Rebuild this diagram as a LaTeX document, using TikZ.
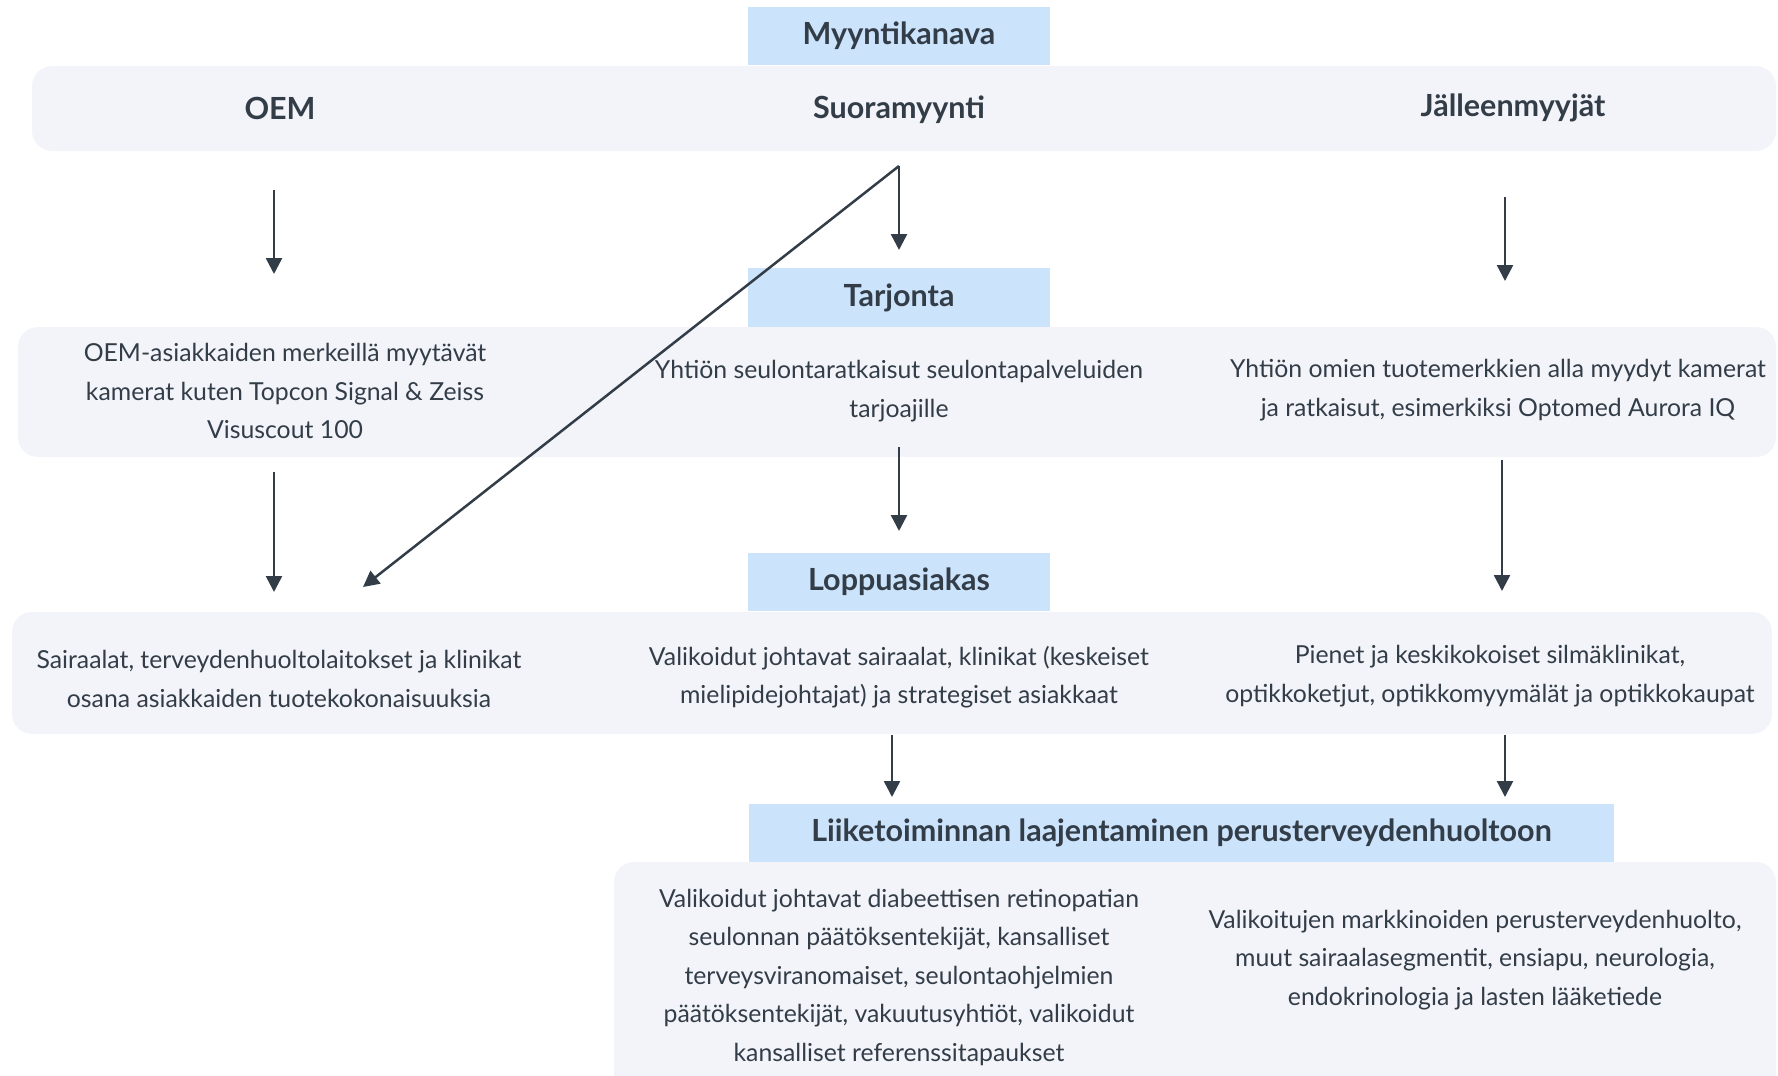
\documentclass[tikz,border=0pt]{standalone}
\usepackage{fontspec}
\setmainfont{Lato}
\usetikzlibrary{arrows.meta}

\definecolor{ink}{HTML}{333D48}
\definecolor{headblue}{HTML}{CCE3FC}
\definecolor{bandgrey}{HTML}{F2F4F9}

\tikzset{
  band/.style={fill=bandgrey, rounded corners=20pt},
  head/.style={fill=headblue, inner sep=0pt, text=ink,
    font=\fontsize{30.5}{36}\selectfont\bfseries},
  chan/.style={text=ink, font=\fontsize{30.5}{36}\selectfont\bfseries},
  body/.style={align=center, text=ink, inner sep=0pt,
    font=\fontsize{24.8}{38.5}\selectfont},
  flow/.style={draw=ink, line width=2.5pt, -{Triangle[length=16pt,width=16pt]}},
}

\begin{document}
\begin{tikzpicture}[x=1pt,y=-1pt]
    \useasboundingbox (0,0) rectangle (1778,1076);
    % Taustat
    \fill[band] (32,66) rectangle (1776,151);
    \fill[band] (18,327) rectangle (1776,457);
    \fill[band] (12,612) rectangle (1772,734);
    \fill[band] (614,862) rectangle (1776,1110);
    % Otsikot
    \node[head, minimum width=302pt, minimum height=58pt] (myynti) at (899,36) {Myyntikanava};
    \node[head, minimum width=302pt, minimum height=59pt] (tarjonta) at (899,297.5) {Tarjonta};
    \node[head, minimum width=302pt, minimum height=58pt] (loppu) at (899,582) {Loppuasiakas};
    \node[head, minimum width=865pt, minimum height=58pt] (laaj) at (1181.5,833) {Liiketoiminnan laajentaminen perusterveydenhuoltoon};
    % Kanavat
    \node[chan] (oem) at (280,108) {OEM};
    \node[chan] (suora) at (899,110) {Suoramyynti};
    \node[chan] (jalleen) at (1513,108) {Jälleenmyyjät};
    % Tarjonta
    \node[body] (tarjOem) at (285,391) {OEM-asiakkaiden merkeillä myytävät\\kamerat kuten Topcon Signal \& Zeiss\\Visuscout 100};
    \node[body] (tarjSuora) at (899,391) {Yhtiön seulontaratkaisut seulontapalveluiden\\tarjoajille};
    \node[body] (tarjJall) at (1498,390) {Yhtiön omien tuotemerkkien alla myydyt kamerat\\ja ratkaisut, esimerkiksi Optomed Aurora IQ};
    % Loppuasiakas
    \node[body] (asOem) at (279,679) {Sairaalat, terveydenhuoltolaitokset ja klinikat\\osana asiakkaiden tuotekokonaisuuksia};
    \node[body] (asSuora) at (899,677) {Valikoidut johtavat sairaalat, klinikat (keskeiset\\mielipidejohtajat) ja strategiset asiakkaat};
    \node[body] (asJall) at (1490,676) {Pienet ja keskikokoiset silmäklinikat,\\optikkoketjut, optikkomyymälät ja optikkokaupat};
    % Laajentaminen
    \node[body] (laajVas) at (899,977) {Valikoidut johtavat diabeettisen retinopatian\\seulonnan päätöksentekijät, kansalliset\\terveysviranomaiset, seulontaohjelmien\\päätöksentekijät, vakuutusyhtiöt, valikoidut\\kansalliset referenssitapaukset};
    \node[body] (laajOik) at (1475,960) {Valikoitujen markkinoiden perusterveydenhuolto,\\muut sairaalasegmentit, ensiapu, neurologia,\\endokrinologia ja lasten lääketiede};
    % Nuolten päät
    \coordinate (oemA) at (274,190);  \coordinate (oemB) at (274,274);
    \coordinate (suoA) at (899,166);  \coordinate (suoB) at (899,250);
    \coordinate (diagB) at (363,587);
    \coordinate (jalA) at (1505,197); \coordinate (jalB) at (1505,281);
    \coordinate (oemC) at (274,472);  \coordinate (oemD) at (274,592);
    \coordinate (suoC) at (899,447);  \coordinate (suoD) at (899,531);
    \coordinate (jalC) at (1502,460); \coordinate (jalD) at (1502,591);
    \coordinate (suoE) at (892,735);  \coordinate (suoF) at (892,797);
    \coordinate (jalE) at (1505,735); \coordinate (jalF) at (1505,797);
    % Nuolet
    \draw[flow] (oemA) -- (oemB);
    \draw[flow] (suoA) -- (suoB);
    \draw[flow] (suoA) -- (diagB);
    \draw[flow] (jalA) -- (jalB);
    \draw[flow] (oemC) -- (oemD);
    \draw[flow] (suoC) -- (suoD);
    \draw[flow] (jalC) -- (jalD);
    \draw[flow] (suoE) -- (suoF);
    \draw[flow] (jalE) -- (jalF);
\end{tikzpicture}
\end{document}
